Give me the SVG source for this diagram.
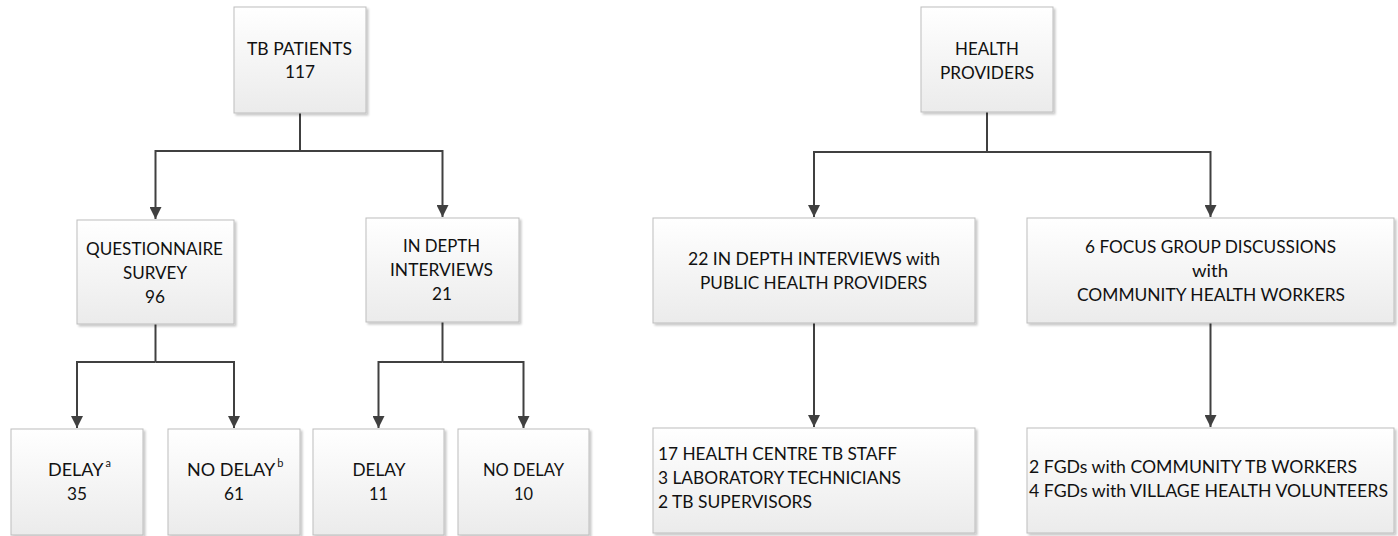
<svg xmlns="http://www.w3.org/2000/svg" width="1398" height="536" viewBox="0 0 1398 536">
<style>
.box{fill:url(#g);stroke:#bdbdbd;stroke-width:1;filter:url(#sh)}
.t{font-family:Lato,"Open Sans","Liberation Sans",sans-serif;font-size:18px;fill:#111}
.sup{font-size:11px}
.c{fill:none;stroke:#404040;stroke-width:2;marker-end:url(#ah)}
.l{fill:none;stroke:#404040;stroke-width:2}
</style>
<defs>
<linearGradient id="g" x1="0" y1="0" x2="0" y2="1">
<stop offset="0" stop-color="#ffffff"/>
<stop offset="1" stop-color="#ebebeb"/>
</linearGradient>
<filter id="sh" x="-10%" y="-10%" width="120%" height="120%">
<feDropShadow dx="2" dy="2" stdDeviation="1" flood-color="#000" flood-opacity="0.22"/>
</filter>
<marker id="ah" markerUnits="userSpaceOnUse" markerWidth="12" markerHeight="12" viewBox="0 0 10 10" refX="10" refY="5" orient="auto">
<path d="M0,0 L10,5 L0,10 z" fill="#404040"/>
</marker>
</defs>
<rect width="1398" height="536" fill="#fff"/>
<g id="connectors">
<path class="l" d="M300,113 V151"/>
<path class="c" d="M300,151 H155.5 V219"/>
<path class="c" d="M300,151 H442.5 V217"/>
<path class="l" d="M155.5,324 V362"/>
<path class="c" d="M155.5,362 H77 V428"/>
<path class="c" d="M155.5,362 H234 V428"/>
<path class="l" d="M442.5,322 V362"/>
<path class="c" d="M442.5,362 H378.5 V428"/>
<path class="c" d="M442.5,362 H523.5 V428"/>
<path class="l" d="M987,112 V152"/>
<path class="c" d="M987,152 H814 V217"/>
<path class="c" d="M987,152 H1210.5 V217"/>
<path class="c" d="M814,323 V427"/>
<path class="c" d="M1210.5,323 V427"/>
</g>
<g id="tb-patients">
<rect class="box" x="234" y="7" width="132" height="106"/>
<text class="t" x="247" y="55" textLength="105" lengthAdjust="spacingAndGlyphs">TB PATIENTS</text>
<text class="t" x="285" y="78" textLength="30" lengthAdjust="spacingAndGlyphs">117</text>
</g>
<g id="questionnaire">
<rect class="box" x="77" y="220" width="157" height="104"/>
<text class="t" x="86" y="255" textLength="137" lengthAdjust="spacingAndGlyphs">QUESTIONNAIRE</text>
<text class="t" x="123" y="279" textLength="64" lengthAdjust="spacingAndGlyphs">SURVEY</text>
<text class="t" x="145" y="303" textLength="20" lengthAdjust="spacingAndGlyphs">96</text>
</g>
<g id="in-depth">
<rect class="box" x="366" y="218" width="153" height="104"/>
<text class="t" x="403" y="252" textLength="77" lengthAdjust="spacingAndGlyphs">IN DEPTH</text>
<text class="t" x="390" y="276" textLength="103" lengthAdjust="spacingAndGlyphs">INTERVIEWS</text>
<text class="t" x="432" y="300" textLength="20" lengthAdjust="spacingAndGlyphs">21</text>
</g>
<g id="delay-q">
<rect class="box" x="11" y="429" width="132" height="106"/>
<text class="t" x="48" y="476">DELAY<tspan class="sup" dx="2" dy="-9">a</tspan></text>
<text class="t" x="67" y="500" textLength="20" lengthAdjust="spacingAndGlyphs">35</text>
</g>
<g id="nodelay-q">
<rect class="box" x="168" y="429" width="132" height="106"/>
<text class="t" x="187" y="476">NO DELAY<tspan class="sup" dx="2" dy="-9">b</tspan></text>
<text class="t" x="224" y="500" textLength="20" lengthAdjust="spacingAndGlyphs">61</text>
</g>
<g id="delay-i">
<rect class="box" x="313" y="429" width="131" height="106"/>
<text class="t" x="352.5" y="476" textLength="53" lengthAdjust="spacingAndGlyphs">DELAY</text>
<text class="t" x="369" y="500" textLength="19" lengthAdjust="spacingAndGlyphs">11</text>
</g>
<g id="nodelay-i">
<rect class="box" x="458" y="429" width="131" height="106"/>
<text class="t" x="483" y="476" textLength="81" lengthAdjust="spacingAndGlyphs">NO DELAY</text>
<text class="t" x="514" y="500" textLength="19" lengthAdjust="spacingAndGlyphs">10</text>
</g>
<g id="health-providers">
<rect class="box" x="921" y="7" width="132" height="105"/>
<text class="t" x="955" y="55" textLength="64" lengthAdjust="spacingAndGlyphs">HEALTH</text>
<text class="t" x="940" y="79" textLength="94" lengthAdjust="spacingAndGlyphs">PROVIDERS</text>
</g>
<g id="idi-public">
<rect class="box" x="653" y="218" width="322" height="105"/>
<text class="t" x="688" y="265" textLength="252" lengthAdjust="spacingAndGlyphs">22 IN DEPTH INTERVIEWS with</text>
<text class="t" x="700" y="289" textLength="227" lengthAdjust="spacingAndGlyphs">PUBLIC HEALTH PROVIDERS</text>
</g>
<g id="fgd-chw">
<rect class="box" x="1027" y="218" width="367" height="105"/>
<text class="t" x="1085" y="253" textLength="251" lengthAdjust="spacingAndGlyphs">6 FOCUS GROUP DISCUSSIONS</text>
<text class="t" x="1192" y="277" textLength="36" lengthAdjust="spacingAndGlyphs">with</text>
<text class="t" x="1077" y="301" textLength="268" lengthAdjust="spacingAndGlyphs">COMMUNITY HEALTH WORKERS</text>
</g>
<g id="idi-detail">
<rect class="box" x="653" y="428" width="322" height="105"/>
<text class="t" x="658" y="459.5" textLength="239" lengthAdjust="spacingAndGlyphs">17 HEALTH CENTRE TB STAFF</text>
<text class="t" x="658" y="483.5" textLength="243" lengthAdjust="spacingAndGlyphs">3 LABORATORY TECHNICIANS</text>
<text class="t" x="658" y="508" textLength="154" lengthAdjust="spacingAndGlyphs">2 TB SUPERVISORS</text>
</g>
<g id="fgd-detail">
<rect class="box" x="1027" y="428" width="367" height="105"/>
<text class="t" x="1029" y="472.5" textLength="328" lengthAdjust="spacingAndGlyphs">2 FGDs with COMMUNITY TB WORKERS</text>
<text class="t" x="1029" y="496.5" textLength="359" lengthAdjust="spacingAndGlyphs">4 FGDs with VILLAGE HEALTH VOLUNTEERS</text>
</g>
</svg>
